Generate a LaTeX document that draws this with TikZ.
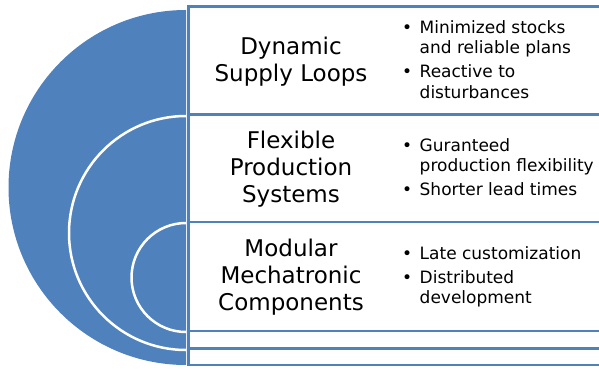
\documentclass[tikz,border=0pt]{standalone}
\usepackage{fontspec}
\setmainfont{DejaVu Sans}
\definecolor{discblue}{RGB}{79,129,189}

\tikzset{
  box/.style={draw=discblue, line width=2.5pt, fill=white, rectangle,
    minimum width=430pt, inner sep=0pt, anchor=south west},
  title/.style={align=center, inner sep=0pt, font=\fontsize{23}{27}\selectfont},
  points/.style={anchor=west, inner sep=0pt, font=\fontsize{17}{20.5}\selectfont},
  ring/.style={draw=white, line width=2.5pt}
}
\newcommand{\pt}[1]{\textbullet & #1}

\begin{document}
\begin{tikzpicture}[x=1pt,y=1pt]
\useasboundingbox (0,0) rectangle (599,368);
\clip (0,0) rectangle (599,368);
% half disc and the two inner rings
\fill [discblue] (186,358) arc[start angle=90, end angle=270, radius=177.5pt] -- cycle;
\draw [ring] (186,252) arc[start angle=90, end angle=270, radius=117pt];
\draw [ring] (186,145) arc[start angle=90, end angle=270, radius=54.5pt];
% stacked boxes
\node [box, minimum height=108pt] (b1) at (187,252.5) {};
\node [box, minimum height=107.5pt] (b2) at (187,145) {};
\node [box, minimum height=109pt] (b3) at (187,36) {};
\node [box, minimum height=17.5pt] (b4) at (187,18.5) {};
\node [box, minimum height=16.5pt] (b5) at (187,2) {};
% titles
\node [title] (loops) at (291,306.5) {Dynamic\\Supply Loops};
\node [title] (prod) at (291,198.8) {Flexible\\Production\\Systems};
\node [title] (comp) at (291,90.5) {Modular\\Mechatronic\\Components};
% bullet points
\node [points] (loopsp) at (402,306.5) {\begin{tabular}{@{}p{17.5pt}@{}l@{}}
  \pt{Minimized stocks}\\ & and reliable plans\\[3.5pt]
  \pt{Reactive to}\\ & disturbances
\end{tabular}};
\node [points] (prodp) at (402,198.8) {\begin{tabular}{@{}p{17.5pt}@{}l@{}}
  \pt{Guranteed}\\ & production flexibility\\[3.5pt]
  \pt{Shorter lead times}
\end{tabular}};
\node [points] (compp) at (402,90.5) {\begin{tabular}{@{}p{17.5pt}@{}l@{}}
  \pt{Late customization}\\[3.5pt]
  \pt{Distributed}\\ & development
\end{tabular}};
\end{tikzpicture}
\end{document}
